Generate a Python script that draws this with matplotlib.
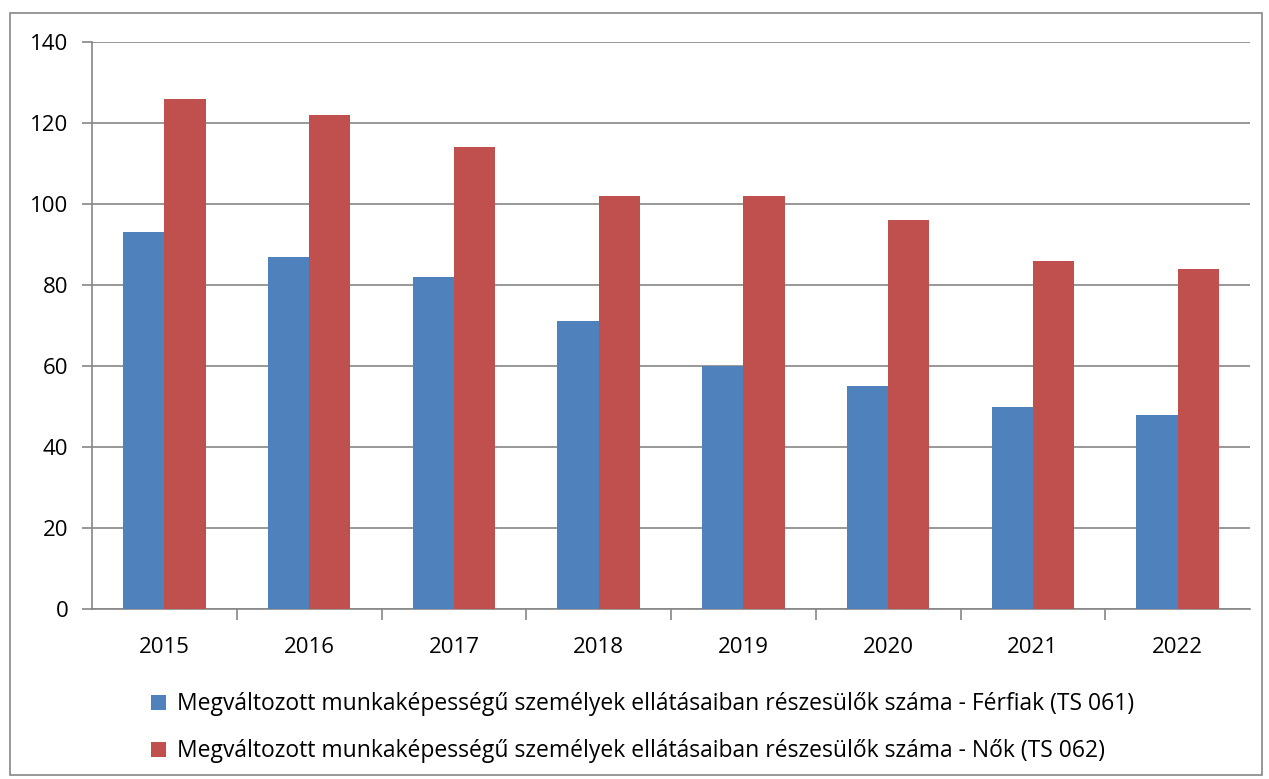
import numpy as np
import matplotlib.pyplot as plt
from matplotlib.patches import Rectangle

years = ['2015', '2016', '2017', '2018', '2019', '2020', '2021', '2022']
ferfiak = [93, 87, 82, 71, 60, 55, 50, 48]
nok = [126, 122, 114, 102, 102, 96, 86, 84]
labels = ['Megváltozott munkaképességű személyek ellátásaiban részesülők száma - Férfiak (TS 061)',
          'Megváltozott munkaképességű személyek ellátásaiban részesülők száma - Nők (TS 062)']

plt.rcParams['font.family'] = ['Open Sans', 'DejaVu Sans']
grid_col = '#868686'

fig = plt.figure(figsize=(12.69, 7.79), dpi=100)
ax = fig.add_axes([92/1269, 1-609/779, (1250-92)/1269, (609-42)/779])

x = np.arange(len(years))
w = 1/3.5
ax.bar(x - w/2, ferfiak, width=w, color='#4F81BD', label=labels[0], zorder=3)
ax.bar(x + w/2, nok, width=w, color='#C0504D', label=labels[1], zorder=3)

ax.set_xlim(-0.5, len(years) - 0.5)
ax.set_ylim(0, 140)
ax.set_yticks(range(0, 141, 20))
ax.yaxis.grid(True, color=grid_col, linewidth=1.2, zorder=0)
ax.set_xticks(x)
ax.set_xticklabels(years)
ax.set_xticks(np.arange(0.5, len(years) - 1, 1), minor=True)
ax.tick_params(axis='x', which='major', length=0, pad=20, labelsize=16)
ax.tick_params(axis='x', which='minor', length=8, color=grid_col, width=1.2)
ax.tick_params(axis='y', length=7, color=grid_col, width=1.2, labelsize=16, pad=10)
for s in ['top', 'right']:
    ax.spines[s].set_visible(False)
for s in ['left', 'bottom']:
    ax.spines[s].set_color(grid_col)
    ax.spines[s].set_linewidth(1.2)

fig.legend(loc='upper left', bbox_to_anchor=(140/1269, 1-681/779), frameon=False,
           fontsize=16.5, handlelength=0.65, handleheight=0.65, handletextpad=0.45,
           labelspacing=1.0, borderpad=0)

fig.patches.append(Rectangle((10/1269, 4/779), 1252/1269, 762/779, transform=fig.transFigure,
                             fill=False, edgecolor=grid_col, linewidth=1.2))

fig.savefig('out.png', dpi=100)
